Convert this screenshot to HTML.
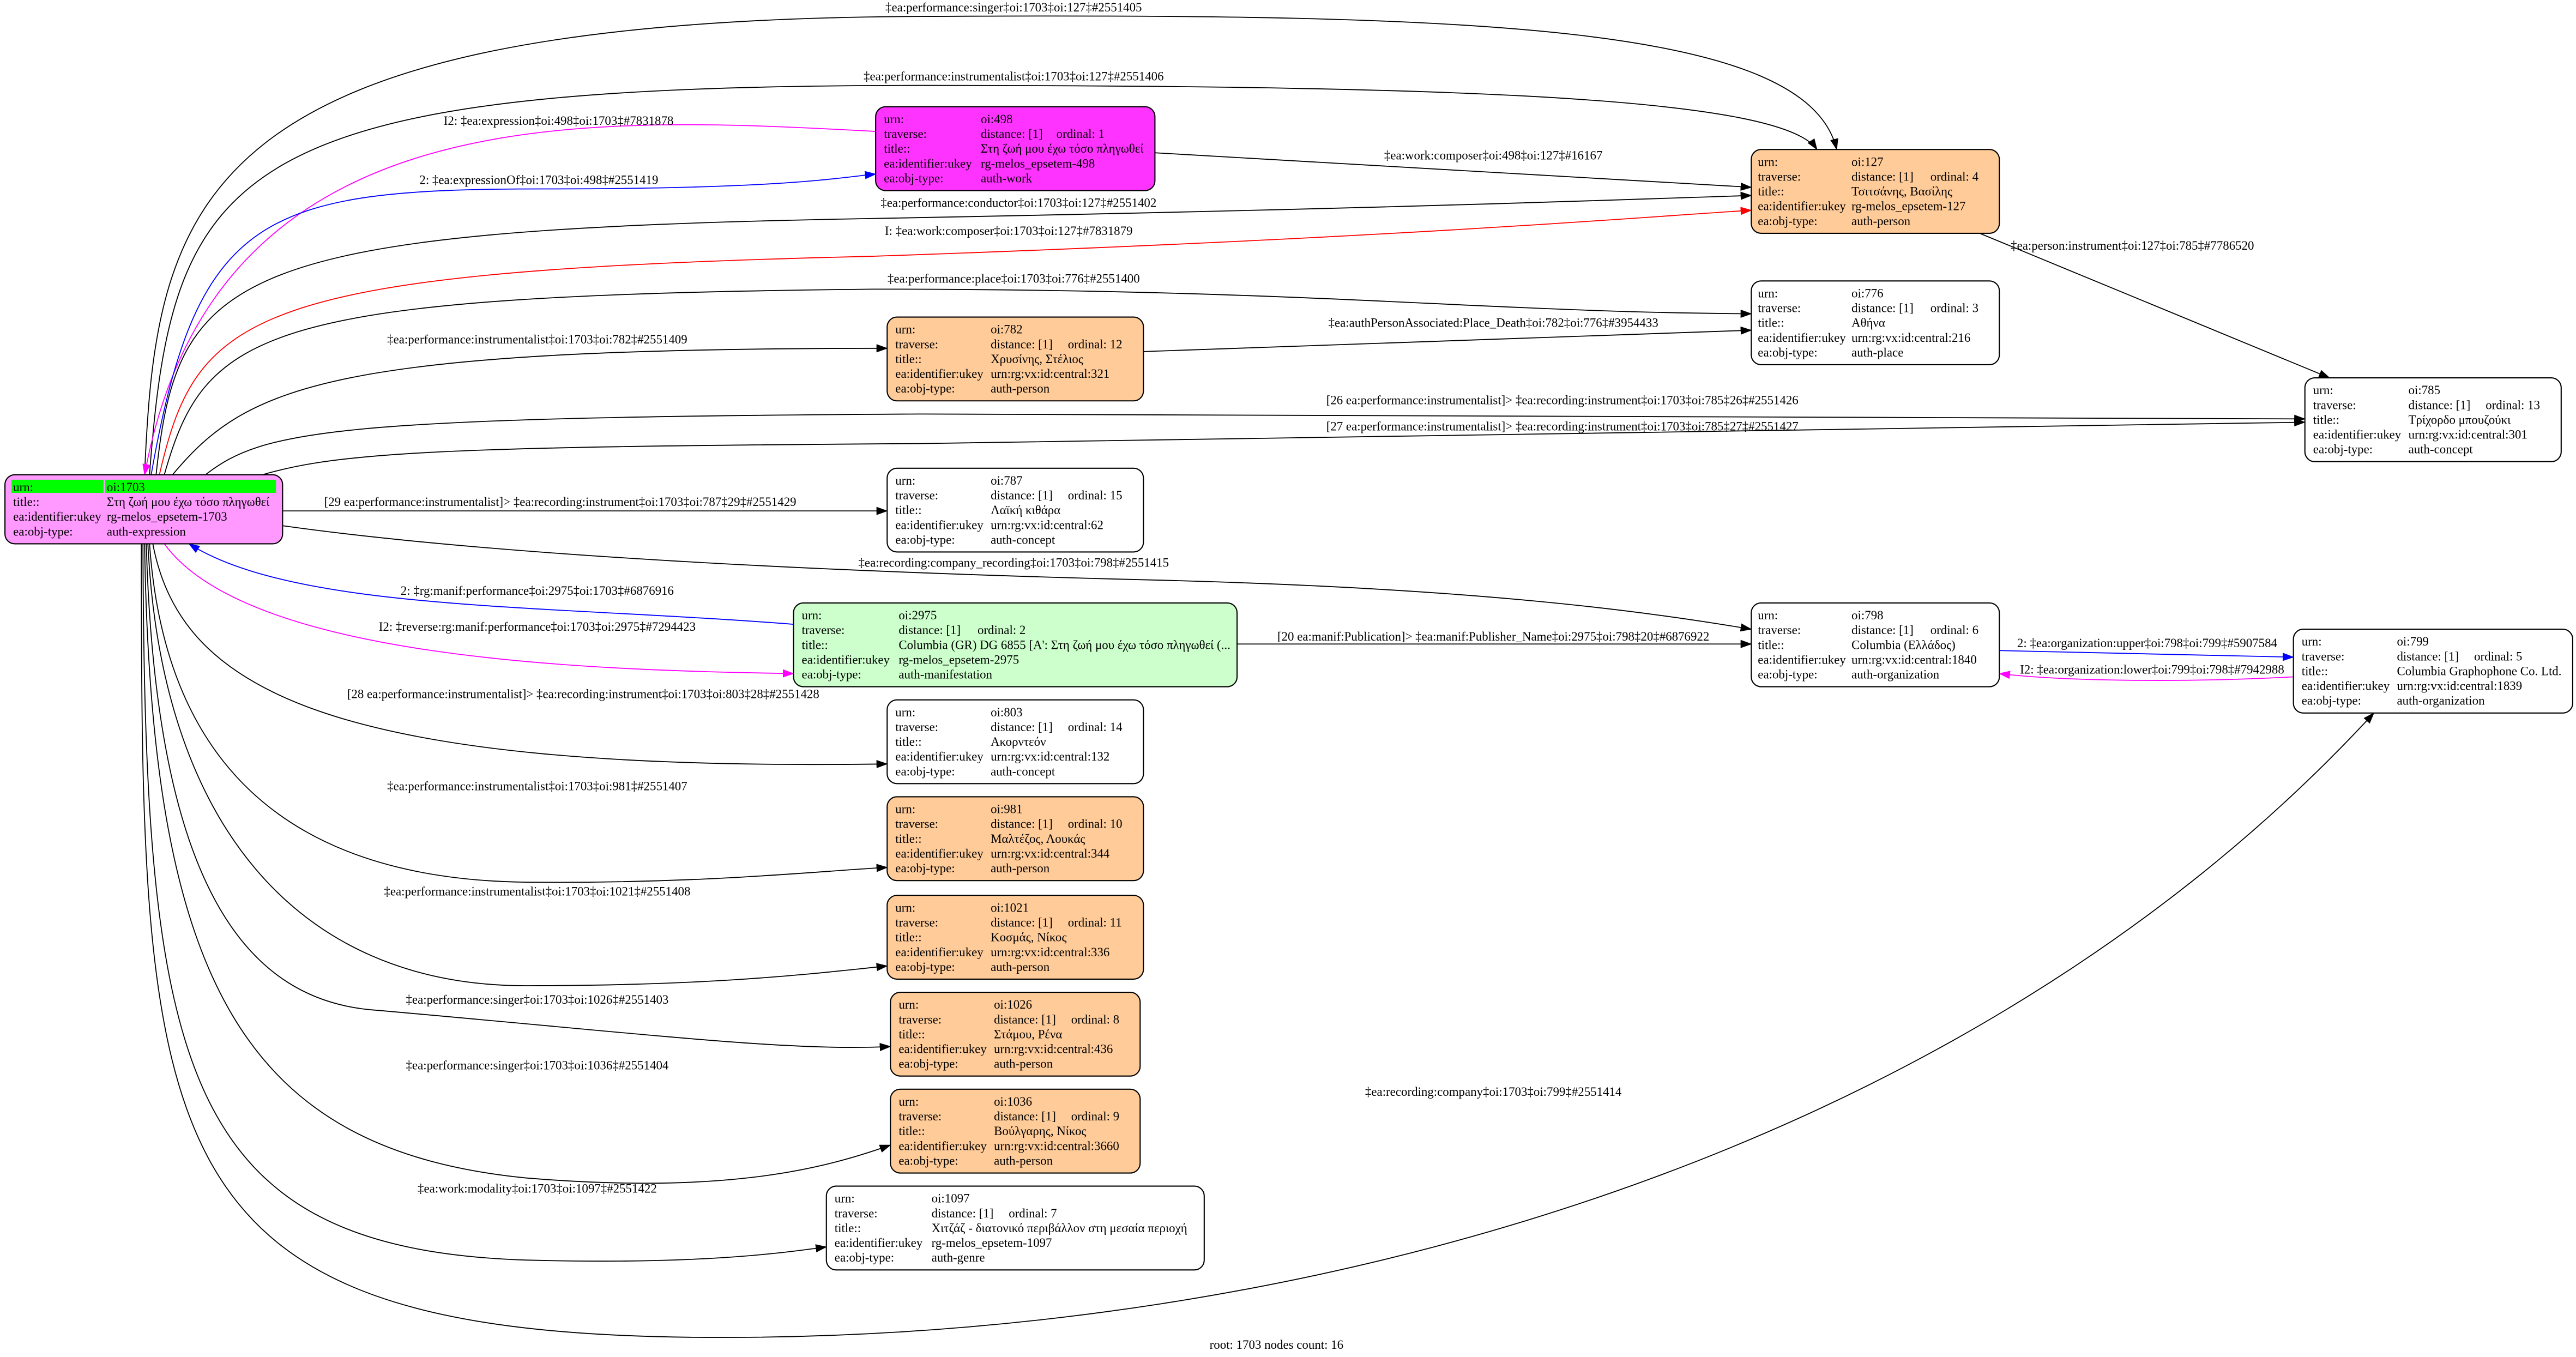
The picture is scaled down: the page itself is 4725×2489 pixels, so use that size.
<!DOCTYPE html>
<html><head><meta charset="utf-8"><style>
html,body{margin:0;padding:0;background:#fff;}
svg{display:block;}
text{font-family:"Liberation Serif","DejaVu Serif",serif;font-size:7.6px;fill:#000;}
</style></head><body>
<svg width="4725" height="2489" viewBox="0 0 1568 826" xmlns="http://www.w3.org/2000/svg">
<defs>
<marker id="ak" markerWidth="7" markerHeight="5" refX="6.5" refY="2.5" orient="auto" markerUnits="userSpaceOnUse"><path d="M0,0 L7,2.5 L0,5 z" fill="#000"/></marker>
<marker id="ab" markerWidth="7" markerHeight="5" refX="6.5" refY="2.5" orient="auto" markerUnits="userSpaceOnUse"><path d="M0,0 L7,2.5 L0,5 z" fill="#00f"/></marker>
<marker id="am" markerWidth="7" markerHeight="5" refX="6.5" refY="2.5" orient="auto" markerUnits="userSpaceOnUse"><path d="M0,0 L7,2.5 L0,5 z" fill="#f0f"/></marker>
<marker id="ar" markerWidth="7" markerHeight="5" refX="6.5" refY="2.5" orient="auto" markerUnits="userSpaceOnUse"><path d="M0,0 L7,2.5 L0,5 z" fill="#f00"/></marker>
</defs>
<rect width="1568" height="826" fill="#fff"/>

<g fill="none" stroke="#000" stroke-width="0.6">
<path d="M88,289 C95,120 120,12 560,10 C900,8 1100,15 1118,91" marker-end="url(#ak)"/>
<path d="M91,289 C105,100 140,52 560,52 C900,52 1085,60 1106,91" marker-end="url(#ak)"/>
<path d="M703,93 L1066,114" marker-end="url(#ak)"/>
<path d="M95,289 C108,165 140,140 531,133 C850,127 1000,121 1066,119" marker-end="url(#ak)"/>
<path d="M100,289 C125,200 160,180 531,176 C800,176 900,190 1066,191" marker-end="url(#ak)"/>
<path d="M105,289 C150,235 200,212 540,212" marker-end="url(#ak)"/>
<path d="M696,214 L1066,201" marker-end="url(#ak)"/>
<path d="M1205,142 L1418,230" marker-end="url(#ak)"/>
<path d="M125,289 C160,262 200,254 560,252 C900,251 1200,253 1403,255" marker-end="url(#ak)"/>
<path d="M150,292 C200,275 260,272 560,270 C900,267 1200,259 1403,257" marker-end="url(#ak)"/>
<path d="M172,311 L540,311" marker-end="url(#ak)"/>
<path d="M172,320 C300,338 500,348 700,353 C900,358 1000,372 1066,383" marker-end="url(#ak)"/>
<path d="M753,392 L1066,392" marker-end="url(#ak)"/>
<path d="M93,331 C110,420 200,470 540,465" marker-end="url(#ak)"/>
<path d="M91,331 C100,460 170,535 320,537 C430,538 500,530 540,528" marker-end="url(#ak)"/>
<path d="M90,331 C98,500 180,600 320,600 C440,600 500,592 540,588" marker-end="url(#ak)"/>
<path d="M89,331 C95,540 150,610 230,615 C400,630 480,640 542,637" marker-end="url(#ak)"/>
<path d="M88,331 C92,600 150,700 320,717 C440,727 500,712 542,697" marker-end="url(#ak)"/>
<path d="M87,331 C88,650 110,760 320,767 C430,770 480,762 503,759" marker-end="url(#ak)"/>
<path d="M86,331 C86,700 90,810 420,814 C800,818 1200,700 1445,434" marker-end="url(#ak)"/>
</g>
<path d="M533,80 C350,70 130,60 88,289" fill="none" stroke="#f0f" stroke-width="0.6" marker-end="url(#am)"/>
<path d="M92,289 C120,130 160,115 330,115 C480,115 510,108 533,106" fill="none" stroke="#00f" stroke-width="0.6" marker-end="url(#ab)"/>
<path d="M97,289 C120,190 150,165 531,156 C850,145 1000,132 1066,128" fill="none" stroke="#f00" stroke-width="0.6" marker-end="url(#ar)"/>
<path d="M483,380 C330,368 180,372 115,331" fill="none" stroke="#00f" stroke-width="0.6" marker-end="url(#ab)"/>
<path d="M100,331 C150,400 350,408 483,410" fill="none" stroke="#f0f" stroke-width="0.6" marker-end="url(#am)"/>
<path d="M1217,396 L1396,400" fill="none" stroke="#00f" stroke-width="0.6" marker-end="url(#ab)"/>
<path d="M1396,412 C1320,416 1250,414 1217,410" fill="none" stroke="#f0f" stroke-width="0.6" marker-end="url(#am)"/>

<g text-anchor="middle">
<text x="617" y="7">‡ea:performance:singer‡oi:1703‡oi:127‡#2551405</text>
<text x="617" y="49">‡ea:performance:instrumentalist‡oi:1703‡oi:127‡#2551406</text>
<text x="340" y="76">I2: ‡ea:expression‡oi:498‡oi:1703‡#7831878</text>
<text x="328" y="112">2: ‡ea:expressionOf‡oi:1703‡oi:498‡#2551419</text>
<text x="909" y="97">‡ea:work:composer‡oi:498‡oi:127‡#16167</text>
<text x="620" y="126">‡ea:performance:conductor‡oi:1703‡oi:127‡#2551402</text>
<text x="614" y="143">I: ‡ea:work:composer‡oi:1703‡oi:127‡#7831879</text>
<text x="617" y="172">‡ea:performance:place‡oi:1703‡oi:776‡#2551400</text>
<text x="327" y="209">‡ea:performance:instrumentalist‡oi:1703‡oi:782‡#2551409</text>
<text x="909" y="199">‡ea:authPersonAssociated:Place_Death‡oi:782‡oi:776‡#3954433</text>
<text x="1298" y="152">‡ea:person:instrument‡oi:127‡oi:785‡#7786520</text>
<text x="951" y="246">[26 ea:performance:instrumentalist]&gt; ‡ea:recording:instrument‡oi:1703‡oi:785‡26‡#2551426</text>
<text x="951" y="262">[27 ea:performance:instrumentalist]&gt; ‡ea:recording:instrument‡oi:1703‡oi:785‡27‡#2551427</text>
<text x="341" y="308">[29 ea:performance:instrumentalist]&gt; ‡ea:recording:instrument‡oi:1703‡oi:787‡29‡#2551429</text>
<text x="617" y="345">‡ea:recording:company_recording‡oi:1703‡oi:798‡#2551415</text>
<text x="327" y="362">2: ‡rg:manif:performance‡oi:2975‡oi:1703‡#6876916</text>
<text x="327" y="384">I2: ‡reverse:rg:manif:performance‡oi:1703‡oi:2975‡#7294423</text>
<text x="909" y="390">[20 ea:manif:Publication]&gt; ‡ea:manif:Publisher_Name‡oi:2975‡oi:798‡20‡#6876922</text>
<text x="1307" y="394">2: ‡ea:organization:upper‡oi:798‡oi:799‡#5907584</text>
<text x="1310" y="410">I2: ‡ea:organization:lower‡oi:799‡oi:798‡#7942988</text>
<text x="355" y="425">[28 ea:performance:instrumentalist]&gt; ‡ea:recording:instrument‡oi:1703‡oi:803‡28‡#2551428</text>
<text x="327" y="481">‡ea:performance:instrumentalist‡oi:1703‡oi:981‡#2551407</text>
<text x="327" y="545">‡ea:performance:instrumentalist‡oi:1703‡oi:1021‡#2551408</text>
<text x="327" y="611">‡ea:performance:singer‡oi:1703‡oi:1026‡#2551403</text>
<text x="327" y="651">‡ea:performance:singer‡oi:1703‡oi:1036‡#2551404</text>
<text x="327" y="726">‡ea:work:modality‡oi:1703‡oi:1097‡#2551422</text>
<text x="909" y="667">‡ea:recording:company‡oi:1703‡oi:799‡#2551414</text>
<text x="777" y="821">root: 1703 nodes count: 16</text>
</g>

<rect x="3" y="289" width="169" height="42" rx="6" fill="#ff99ff" stroke="#000" stroke-width="0.7"/>
<rect x="7" y="292" width="56" height="8" fill="#00ff00"/>
<rect x="64" y="292" width="104" height="8" fill="#00ff00"/>
<text x="8" y="299">urn:</text><text x="65" y="299">oi:1703</text>
<text x="8" y="308">title::</text><text x="65" y="308">Στη ζωή μου έχω τόσο πληγωθεί</text>
<text x="8" y="317">ea:identifier:ukey</text><text x="65" y="317">rg-melos_epsetem-1703</text>
<text x="8" y="326">ea:obj-type:</text><text x="65" y="326">auth-expression</text>

<g id="nodes">
<rect x="533" y="65" width="170" height="51" rx="6" fill="#ff33ff" stroke="#000" stroke-width="0.7"/>
<text x="538" y="75">urn:</text><text x="597" y="75">oi:498</text>
<text x="538" y="84">traverse:</text><text x="597" y="84">distance: [1]</text><text x="643" y="84">ordinal: 1</text>
<text x="538" y="93">title::</text><text x="597" y="93">Στη ζωή μου έχω τόσο πληγωθεί</text>
<text x="538" y="102">ea:identifier:ukey</text><text x="597" y="102">rg-melos_epsetem-498</text>
<text x="538" y="111">ea:obj-type:</text><text x="597" y="111">auth-work</text>

<rect x="1066" y="91" width="151" height="51" rx="6" fill="#ffcc99" stroke="#000" stroke-width="0.7"/>
<text x="1070" y="101">urn:</text><text x="1127" y="101">oi:127</text>
<text x="1070" y="110">traverse:</text><text x="1127" y="110">distance: [1]</text><text x="1175" y="110">ordinal: 4</text>
<text x="1070" y="119">title::</text><text x="1127" y="119">Τσιτσάνης, Βασίλης</text>
<text x="1070" y="128">ea:identifier:ukey</text><text x="1127" y="128">rg-melos_epsetem-127</text>
<text x="1070" y="137">ea:obj-type:</text><text x="1127" y="137">auth-person</text>

<rect x="1066" y="171" width="151" height="51" rx="6" fill="#fff" stroke="#000" stroke-width="0.7"/>
<text x="1070" y="181">urn:</text><text x="1127" y="181">oi:776</text>
<text x="1070" y="190">traverse:</text><text x="1127" y="190">distance: [1]</text><text x="1175" y="190">ordinal: 3</text>
<text x="1070" y="199">title::</text><text x="1127" y="199">Αθήνα</text>
<text x="1070" y="208">ea:identifier:ukey</text><text x="1127" y="208">urn:rg:vx:id:central:216</text>
<text x="1070" y="217">ea:obj-type:</text><text x="1127" y="217">auth-place</text>

<rect x="540" y="193" width="156" height="51" rx="6" fill="#ffcc99" stroke="#000" stroke-width="0.7"/>
<text x="545" y="203">urn:</text><text x="603" y="203">oi:782</text>
<text x="545" y="212">traverse:</text><text x="603" y="212">distance: [1]</text><text x="650" y="212">ordinal: 12</text>
<text x="545" y="221">title::</text><text x="603" y="221">Χρυσίνης, Στέλιος</text>
<text x="545" y="230">ea:identifier:ukey</text><text x="603" y="230">urn:rg:vx:id:central:321</text>
<text x="545" y="239">ea:obj-type:</text><text x="603" y="239">auth-person</text>

<rect x="1403" y="230" width="156" height="51" rx="6" fill="#fff" stroke="#000" stroke-width="0.7"/>
<text x="1408" y="240">urn:</text><text x="1466" y="240">oi:785</text>
<text x="1408" y="249">traverse:</text><text x="1466" y="249">distance: [1]</text><text x="1513" y="249">ordinal: 13</text>
<text x="1408" y="258">title::</text><text x="1466" y="258">Τρίχορδο μπουζούκι</text>
<text x="1408" y="267">ea:identifier:ukey</text><text x="1466" y="267">urn:rg:vx:id:central:301</text>
<text x="1408" y="276">ea:obj-type:</text><text x="1466" y="276">auth-concept</text>

<rect x="540" y="285" width="156" height="51" rx="6" fill="#fff" stroke="#000" stroke-width="0.7"/>
<text x="545" y="295">urn:</text><text x="603" y="295">oi:787</text>
<text x="545" y="304">traverse:</text><text x="603" y="304">distance: [1]</text><text x="650" y="304">ordinal: 15</text>
<text x="545" y="313">title::</text><text x="603" y="313">Λαϊκή κιθάρα</text>
<text x="545" y="322">ea:identifier:ukey</text><text x="603" y="322">urn:rg:vx:id:central:62</text>
<text x="545" y="331">ea:obj-type:</text><text x="603" y="331">auth-concept</text>

<rect x="483" y="367" width="270" height="51" rx="6" fill="#ccffcc" stroke="#000" stroke-width="0.7"/>
<text x="488" y="377">urn:</text><text x="547" y="377">oi:2975</text>
<text x="488" y="386">traverse:</text><text x="547" y="386">distance: [1]</text><text x="595" y="386">ordinal: 2</text>
<text x="488" y="395">title::</text><text x="547" y="395">Columbia (GR) DG 6855 [A': Στη ζωή μου έχω τόσο πληγωθεί (...</text>
<text x="488" y="404">ea:identifier:ukey</text><text x="547" y="404">rg-melos_epsetem-2975</text>
<text x="488" y="413">ea:obj-type:</text><text x="547" y="413">auth-manifestation</text>

<rect x="1066" y="367" width="151" height="51" rx="6" fill="#fff" stroke="#000" stroke-width="0.7"/>
<text x="1070" y="377">urn:</text><text x="1127" y="377">oi:798</text>
<text x="1070" y="386">traverse:</text><text x="1127" y="386">distance: [1]</text><text x="1175" y="386">ordinal: 6</text>
<text x="1070" y="395">title::</text><text x="1127" y="395">Columbia (Ελλάδος)</text>
<text x="1070" y="404">ea:identifier:ukey</text><text x="1127" y="404">urn:rg:vx:id:central:1840</text>
<text x="1070" y="413">ea:obj-type:</text><text x="1127" y="413">auth-organization</text>

<rect x="1396" y="383" width="170" height="51" rx="6" fill="#fff" stroke="#000" stroke-width="0.7"/>
<text x="1401" y="393">urn:</text><text x="1459" y="393">oi:799</text>
<text x="1401" y="402">traverse:</text><text x="1459" y="402">distance: [1]</text><text x="1506" y="402">ordinal: 5</text>
<text x="1401" y="411">title::</text><text x="1459" y="411">Columbia Graphophone Co. Ltd.</text>
<text x="1401" y="420">ea:identifier:ukey</text><text x="1459" y="420">urn:rg:vx:id:central:1839</text>
<text x="1401" y="429">ea:obj-type:</text><text x="1459" y="429">auth-organization</text>

<rect x="540" y="426" width="156" height="51" rx="6" fill="#fff" stroke="#000" stroke-width="0.7"/>
<text x="545" y="436">urn:</text><text x="603" y="436">oi:803</text>
<text x="545" y="445">traverse:</text><text x="603" y="445">distance: [1]</text><text x="650" y="445">ordinal: 14</text>
<text x="545" y="454">title::</text><text x="603" y="454">Ακορντεόν</text>
<text x="545" y="463">ea:identifier:ukey</text><text x="603" y="463">urn:rg:vx:id:central:132</text>
<text x="545" y="472">ea:obj-type:</text><text x="603" y="472">auth-concept</text>

<rect x="540" y="485" width="156" height="51" rx="6" fill="#ffcc99" stroke="#000" stroke-width="0.7"/>
<text x="545" y="495">urn:</text><text x="603" y="495">oi:981</text>
<text x="545" y="504">traverse:</text><text x="603" y="504">distance: [1]</text><text x="650" y="504">ordinal: 10</text>
<text x="545" y="513">title::</text><text x="603" y="513">Μαλτέζος, Λουκάς</text>
<text x="545" y="522">ea:identifier:ukey</text><text x="603" y="522">urn:rg:vx:id:central:344</text>
<text x="545" y="531">ea:obj-type:</text><text x="603" y="531">auth-person</text>

<rect x="540" y="545" width="156" height="51" rx="6" fill="#ffcc99" stroke="#000" stroke-width="0.7"/>
<text x="545" y="555">urn:</text><text x="603" y="555">oi:1021</text>
<text x="545" y="564">traverse:</text><text x="603" y="564">distance: [1]</text><text x="650" y="564">ordinal: 11</text>
<text x="545" y="573">title::</text><text x="603" y="573">Κοσμάς, Νίκος</text>
<text x="545" y="582">ea:identifier:ukey</text><text x="603" y="582">urn:rg:vx:id:central:336</text>
<text x="545" y="591">ea:obj-type:</text><text x="603" y="591">auth-person</text>

<rect x="542" y="604" width="152" height="51" rx="6" fill="#ffcc99" stroke="#000" stroke-width="0.7"/>
<text x="547" y="614">urn:</text><text x="605" y="614">oi:1026</text>
<text x="547" y="623">traverse:</text><text x="605" y="623">distance: [1]</text><text x="652" y="623">ordinal: 8</text>
<text x="547" y="632">title::</text><text x="605" y="632">Στάμου, Ρένα</text>
<text x="547" y="641">ea:identifier:ukey</text><text x="605" y="641">urn:rg:vx:id:central:436</text>
<text x="547" y="650">ea:obj-type:</text><text x="605" y="650">auth-person</text>

<rect x="542" y="663" width="152" height="51" rx="6" fill="#ffcc99" stroke="#000" stroke-width="0.7"/>
<text x="547" y="673">urn:</text><text x="605" y="673">oi:1036</text>
<text x="547" y="682">traverse:</text><text x="605" y="682">distance: [1]</text><text x="652" y="682">ordinal: 9</text>
<text x="547" y="691">title::</text><text x="605" y="691">Βούλγαρης, Νίκος</text>
<text x="547" y="700">ea:identifier:ukey</text><text x="605" y="700">urn:rg:vx:id:central:3660</text>
<text x="547" y="709">ea:obj-type:</text><text x="605" y="709">auth-person</text>

<rect x="503" y="722" width="230" height="51" rx="6" fill="#fff" stroke="#000" stroke-width="0.7"/>
<text x="508" y="732">urn:</text><text x="567" y="732">oi:1097</text>
<text x="508" y="741">traverse:</text><text x="567" y="741">distance: [1]</text><text x="614" y="741">ordinal: 7</text>
<text x="508" y="750">title::</text><text x="567" y="750">Χιτζάζ - διατονικό περιβάλλον στη μεσαία περιοχή</text>
<text x="508" y="759">ea:identifier:ukey</text><text x="567" y="759">rg-melos_epsetem-1097</text>
<text x="508" y="768">ea:obj-type:</text><text x="567" y="768">auth-genre</text>
</g>
</svg>
</body></html>
